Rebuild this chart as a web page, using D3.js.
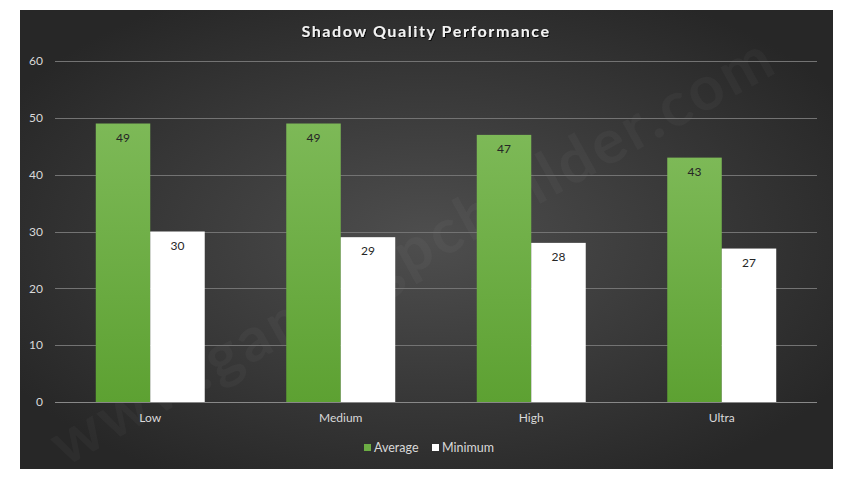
<!DOCTYPE html>
<html>
<head>
<meta charset="utf-8">
<script src="https://cdn.jsdelivr.net/npm/d3@7"></script>
<style>
  body { margin: 0; background: #ffffff; }
  svg { display: block; font-family: Lato, "Open Sans", sans-serif; }
</style>
</head>
<body>
<svg id="chart" width="853" height="479"></svg>
<script>
let categories = ["Low", "Medium", "High", "Ultra"];
let seriesNames = ["Average", "Minimum"];
let averageFps = [49, 49, 47, 43];
let minimumFps = [30, 29, 28, 27];
let yTicks = [0, 10, 20, 30, 40, 50, 60];

document.addEventListener("DOMContentLoaded", (event) => {
  let data = categories.map((c, i) => ({
    key: c,
    Average: averageFps[i],
    Minimum: minimumFps[i],
  }));
  create_bar_chart(data);
});

function create_bar_chart(data) {
  let svg = d3.select("#chart");

  let defs = svg.append("defs");

  // dark background, lighter in the middle
  let bg = defs
    .append("radialGradient")
    .attr("id", "bg")
    .attr("cx", "50%")
    .attr("cy", "50%")
    .attr("r", "60%");
  bg.append("stop").attr("offset", "0%").attr("stop-color", "#4e4e4e");
  bg.append("stop").attr("offset", "100%").attr("stop-color", "#272727");

  let green = defs
    .append("linearGradient")
    .attr("id", "green")
    .attr("x1", 0)
    .attr("y1", 0)
    .attr("x2", 0)
    .attr("y2", 1);
  green.append("stop").attr("offset", "0%").attr("stop-color", "#7db957");
  green.append("stop").attr("offset", "100%").attr("stop-color", "#5da132");

  let shadow = defs.append("filter").attr("id", "shadow");
  shadow
    .append("feDropShadow")
    .attr("dx", 1)
    .attr("dy", 1)
    .attr("stdDeviation", 0.6)
    .attr("flood-color", "#000")
    .attr("flood-opacity", 0.8);

  svg
    .append("rect")
    .attr("x", 20)
    .attr("y", 10)
    .attr("width", 813)
    .attr("height", 459)
    .attr("fill", "url(#bg)");

  // faint watermark
  svg
    .append("text")
    .attr("transform", "translate(415,255) rotate(-29)")
    .attr("text-anchor", "middle")
    .attr("dominant-baseline", "middle")
    .style("font-size", "62px")
    .style("font-weight", "bold")
    .style("letter-spacing", "3px")
    .attr("fill", "#ffffff")
    .attr("fill-opacity", 0.03)
    .text("www.gamingpcbuilder.com");

  let margin = { top: 61, left: 55 };
  let width = 762;
  let height = 341;

  let g = svg
    .append("g")
    .attr("transform", "translate(" + margin.left + "," + margin.top + ")");

  // Define the x and y scales
  let x0 = d3
    .scaleBand()
    .domain(categories)
    .range([0, width])
    .paddingInner(0.428)
    .paddingOuter(0.214);
  let x1 = d3.scaleBand().domain(seriesNames).range([0, x0.bandwidth()]);
  let y = d3.scaleLinear().domain([0, 60]).range([height, 0]);

  let z = d3.scaleOrdinal().domain(seriesNames).range(["url(#green)", "#ffffff"]);

  // gridlines
  g.append("g")
    .selectAll("line")
    .data(yTicks)
    .enter()
    .append("line")
    .attr("x1", 0)
    .attr("x2", width)
    .attr("y1", (d) => Math.round(y(d)) + 0.5)
    .attr("y2", (d) => Math.round(y(d)) + 0.5)
    .attr("stroke", (d) => (d === 0 ? "#888888" : "#737373"))
    .attr("stroke-width", 1);

  // y tick labels
  g.append("g")
    .selectAll("text")
    .data(yTicks)
    .enter()
    .append("text")
    .attr("x", -12)
    .attr("y", (d) => y(d))
    .attr("dy", "0.35em")
    .attr("text-anchor", "end")
    .style("font-size", "12px")
    .attr("fill", "#d9d9d9")
    .text((d) => d);

  // Draw the bars
  let groups = g
    .append("g")
    .selectAll("g")
    .data(data)
    .enter()
    .append("g")
    .attr("transform", (d) => "translate(" + x0(d.key) + ",0)");

  let cells = groups
    .selectAll("g")
    .data((d) => seriesNames.map((key) => ({ key: key, value: d[key] })))
    .enter()
    .append("g");

  cells
    .append("rect")
    .attr("x", (d) => x1(d.key))
    .attr("y", (d) => y(d.value))
    .attr("width", x1.bandwidth())
    .attr("height", (d) => height - y(d.value))
    .attr("fill", (d) => z(d.key));

  cells
    .append("text")
    .attr("x", (d) => x1(d.key) + x1.bandwidth() / 2)
    .attr("y", (d) => y(d.value) + 18)
    .attr("text-anchor", "middle")
    .style("font-size", "12px")
    .attr("fill", "#262626")
    .text((d) => d.value);

  // x labels
  g.append("g")
    .selectAll("text")
    .data(categories)
    .enter()
    .append("text")
    .attr("x", (d) => x0(d) + x0.bandwidth() / 2)
    .attr("y", height + 20)
    .attr("text-anchor", "middle")
    .style("font-size", "12px")
    .attr("fill", "#d9d9d9")
    .text((d) => d);

  // title
  svg
    .append("text")
    .attr("x", 426)
    .attr("y", 37)
    .attr("text-anchor", "middle")
    .style("font-size", "16px")
    .style("font-weight", "bold")
    .style("letter-spacing", "1.6px")
    .attr("fill", "#f2f2f2")
    .attr("filter", "url(#shadow)")
    .text("Shadow Quality Performance");

  // legend
  const legend = svg.append("g").attr("transform", "translate(364,448)");
  const legendX = [0, 68];
  const legendKeys = legend
    .selectAll("g")
    .data(seriesNames)
    .enter()
    .append("g")
    .attr("transform", (d, i) => "translate(" + legendX[i] + ",0)");

  legendKeys
    .append("rect")
    .attr("x", 0)
    .attr("y", -4)
    .attr("width", 7)
    .attr("height", 7)
    .attr("fill", (d) => (d === "Average" ? "#6cad44" : "#ffffff"));

  legendKeys
    .append("text")
    .attr("x", 10)
    .attr("y", 0)
    .attr("dy", "0.35em")
    .style("font-size", "12.5px")
    .attr("fill", "#d9d9d9")
    .text((d) => d);
}
</script>
</body>
</html>
